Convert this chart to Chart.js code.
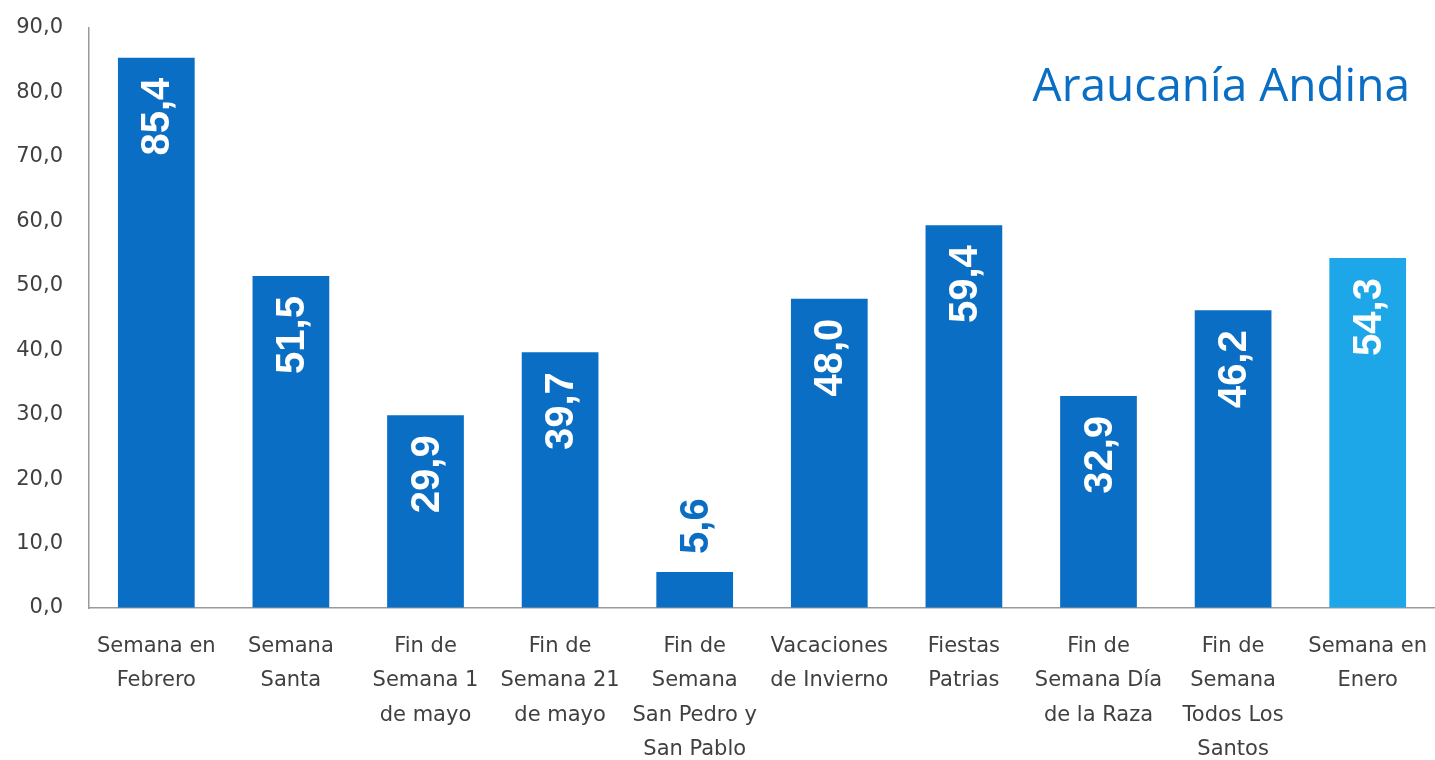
<!DOCTYPE html>
<html>
<head>
<meta charset="utf-8">
<script src="https://cdn.jsdelivr.net/npm/chart.js@4/dist/chart.umd.min.js"></script>
<style>
  html, body { margin: 0; padding: 0; background: #fff; }
  #wrap { width: 1435px; height: 760px; }
</style>
</head>
<body>
<div id="wrap"><canvas id="barChart"></canvas></div>
<script>
const categories = [
  ['Semana en', 'Febrero'],
  ['Semana', 'Santa'],
  ['Fin de', 'Semana 1', 'de mayo'],
  ['Fin de', 'Semana 21', 'de mayo'],
  ['Fin de', 'Semana', 'San Pedro y', 'San Pablo'],
  ['Vacaciones', 'de Invierno'],
  ['Fiestas', 'Patrias'],
  ['Fin de', 'Semana Día', 'de la Raza'],
  ['Fin de', 'Semana', 'Todos Los', 'Santos'],
  ['Semana en', 'Enero']
];
const values = [85.4, 51.5, 29.9, 39.7, 5.6, 48.0, 59.4, 32.9, 46.2, 54.3];
const barColors = ['#0A6EC4', '#0A6EC4', '#0A6EC4', '#0A6EC4', '#0A6EC4',
                   '#0A6EC4', '#0A6EC4', '#0A6EC4', '#0A6EC4', '#1EA7E8'];
const chartTitle = 'Araucanía Andina';

function fmt(v) {
    return v.toFixed(1).replace('.', ',');
}

// rotated value labels, inside the bar top or above when the bar is short
const valueLabels = {
    id: 'valueLabels',
    afterDatasetsDraw(chart) {
        const ctx = chart.ctx;
        const meta = chart.getDatasetMeta(0);
        ctx.save();
        ctx.font = 'bold 40px "Liberation Sans", Arial, sans-serif';
        ctx.textBaseline = 'middle';
        meta.data.forEach((bar, i) => {
            const text = fmt(values[i]);
            const w = ctx.measureText(text).width;
            const inside = bar.base - bar.y > w + 40;
            ctx.save();
            ctx.translate(bar.x, bar.y);
            ctx.rotate(-Math.PI / 2);
            if (inside) {
                ctx.fillStyle = '#ffffff';
                ctx.textAlign = 'right';
                ctx.fillText(text, -20, 2);
            } else {
                ctx.fillStyle = barColors[i];
                ctx.textAlign = 'left';
                ctx.fillText(text, 18, 2);
            }
            ctx.restore();
        });
        ctx.restore();
    }
};

const cornerTitle = {
    id: 'cornerTitle',
    afterDraw(chart) {
        const ctx = chart.ctx;
        ctx.save();
        ctx.font = '46px "Open Sans", "Noto Sans", sans-serif';
        ctx.fillStyle = '#0A6EC4';
        ctx.textAlign = 'right';
        ctx.textBaseline = 'middle';
        ctx.fillText(chartTitle, 1410, 88);
        ctx.restore();
    }
};

// invisible tick marks give the label gap without the extra layout padding
const hiddenTicks = len => ({
    display: true,
    drawOnChartArea: false,
    drawTicks: true,
    tickLength: len,
    color: 'rgba(0,0,0,0)'
});

new Chart(document.getElementById('barChart'), {
    type: 'bar',
    data: {
        labels: categories,
        datasets: [{
            data: values,
            backgroundColor: barColors,
            categoryPercentage: 1.0,
            barPercentage: 0.57
        }]
    },
    options: {
        responsive: true,
        maintainAspectRatio: false,
        animation: false,
        layout: { padding: { top: 28, right: 0, bottom: 0, left: 0 } },
        plugins: {
            legend: { display: false },
            tooltip: { enabled: false }
        },
        scales: {
            x: {
                grid: hiddenTicks(22),
                border: { display: true, color: '#9a9a9a', width: 1.5 },
                ticks: {
                    color: '#404040',
                    padding: 0,
                    maxRotation: 0,
                    autoSkip: false,
                    font: { family: '"DejaVu Sans", sans-serif', size: 21, lineHeight: 1.62 }
                },
                afterFit: s => { s.height = 152; }
            },
            y: {
                min: 0,
                max: 90,
                grid: hiddenTicks(26),
                border: { display: true, color: '#9a9a9a', width: 1.5 },
                ticks: {
                    stepSize: 10,
                    color: '#404040',
                    padding: 0,
                    font: { family: '"DejaVu Sans", sans-serif', size: 21 },
                    callback: v => fmt(v)
                },
                afterFit: s => { s.width = 89; }
            }
        }
    },
    plugins: [valueLabels, cornerTitle]
});
</script>
</body>
</html>
